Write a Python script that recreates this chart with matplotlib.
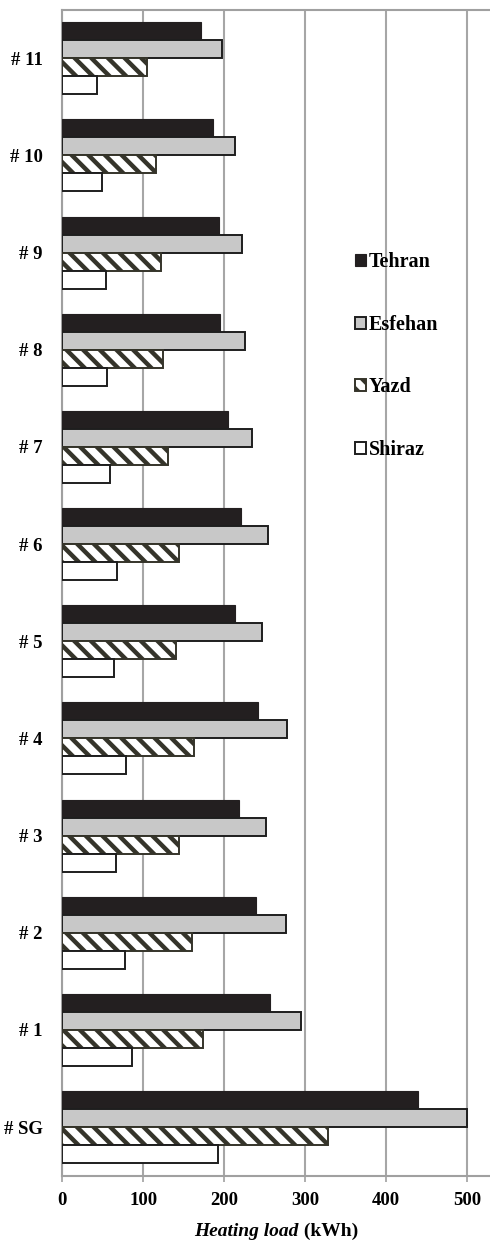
import matplotlib
matplotlib.use("Agg")
import matplotlib.pyplot as plt
import numpy as np

categories = ["# SG", "# 1", "# 2", "# 3", "# 4", "# 5", "# 6", "# 7", "# 8", "# 9", "# 10", "# 11"]
tehran  = [439, 256, 239.5, 218.5, 242, 213.5, 220.5, 204.5, 195, 193, 186, 171]
esfehan = [500, 295, 276.5, 252, 278, 246, 254, 234.5, 225, 222, 213, 197]
yazd    = [328.5, 174, 160.5, 143.5, 162, 140, 144, 131, 124, 122, 116, 104]
shiraz  = [192.5, 86, 78, 66.5, 78.5, 64, 68, 59, 55, 53.5, 49, 42.5]
series_names = ["Tehran", "Esfehan", "Yazd", "Shiraz"]
xticks = [0, 100, 200, 300, 400, 500]

plt.rcParams['font.family'] = ['Liberation Serif', 'DejaVu Serif']
plt.rcParams['hatch.linewidth'] = 3.2

W, H = 490, 1241
fig = plt.figure(figsize=(W / 100, H / 100), dpi=100)
ax = fig.add_axes([62.3 / W, 65.3 / H, 1 - 62.3 / W, (1175.7 - 9.7) / H])

y = np.arange(len(categories))
h = 0.185
edge = '#1e1e1e'
ax.barh(y + 1.5 * h, tehran, height=h, color='#231f20', edgecolor='#231f20', linewidth=0.8, zorder=3, label=series_names[0])
ax.barh(y + 0.5 * h, esfehan, height=h, color='#c8c8c8', edgecolor=edge, linewidth=1.4, zorder=3, label=series_names[1])
ax.barh(y - 0.5 * h, yazd, height=h, color='white', edgecolor='#35342a', hatch='\\\\', linewidth=1.4, zorder=3, label=series_names[2])
ax.barh(y - 1.5 * h, shiraz, height=h, color='white', edgecolor=edge, linewidth=1.4, zorder=3, label=series_names[3])

ax.set_xlim(0, (490 - 62.3) / 0.81)
ax.set_ylim(-0.5, len(categories) - 0.5)
ax.set_xticks(xticks)
ax.set_xticklabels([str(v) for v in xticks], fontsize=13.5, fontweight='bold')
ax.set_yticks(y)
ax.set_yticklabels(categories, fontsize=13.5, fontweight='bold')
ax.tick_params(axis='y', length=0, pad=14)
ax.tick_params(axis='x', length=4, width=1.2, color='#a0a0a0', pad=8, direction='out')
ax.xaxis.grid(True, color='#a6a6a6', linewidth=1.5, zorder=0)
ax.set_axisbelow(True)
for s in ['left', 'top', 'bottom']:
    ax.spines[s].set_color('#a0a0a0')
    ax.spines[s].set_linewidth(1.5)
ax.spines['right'].set_visible(False)

leg = ax.legend(loc='upper left', bbox_to_anchor=(355 / W, (H - 252) / H),
                bbox_transform=fig.transFigure, frameon=False,
                prop={'weight': 'bold', 'size': 14.5}, handlelength=0.55, handleheight=0.55,
                handletextpad=0.15, labelspacing=2.12, borderpad=0, borderaxespad=0)

# x label: italic bold + bold
yb = (H - 1236) / H
t1 = fig.text(0, yb, "Heating load", fontsize=14, fontweight='bold', style='italic', va='baseline')
t2 = fig.text(0, yb, " (kWh)", fontsize=14, fontweight='bold', va='baseline')
fig.canvas.draw()
r = fig.canvas.get_renderer()
w1 = t1.get_window_extent(r).width
w2 = t2.get_window_extent(r).width
cx = 276
start = cx - (w1 + w2) / 2
t1.set_x(start / W)
t2.set_x((start + w1) / W)

fig.savefig("out.png", dpi=100)
